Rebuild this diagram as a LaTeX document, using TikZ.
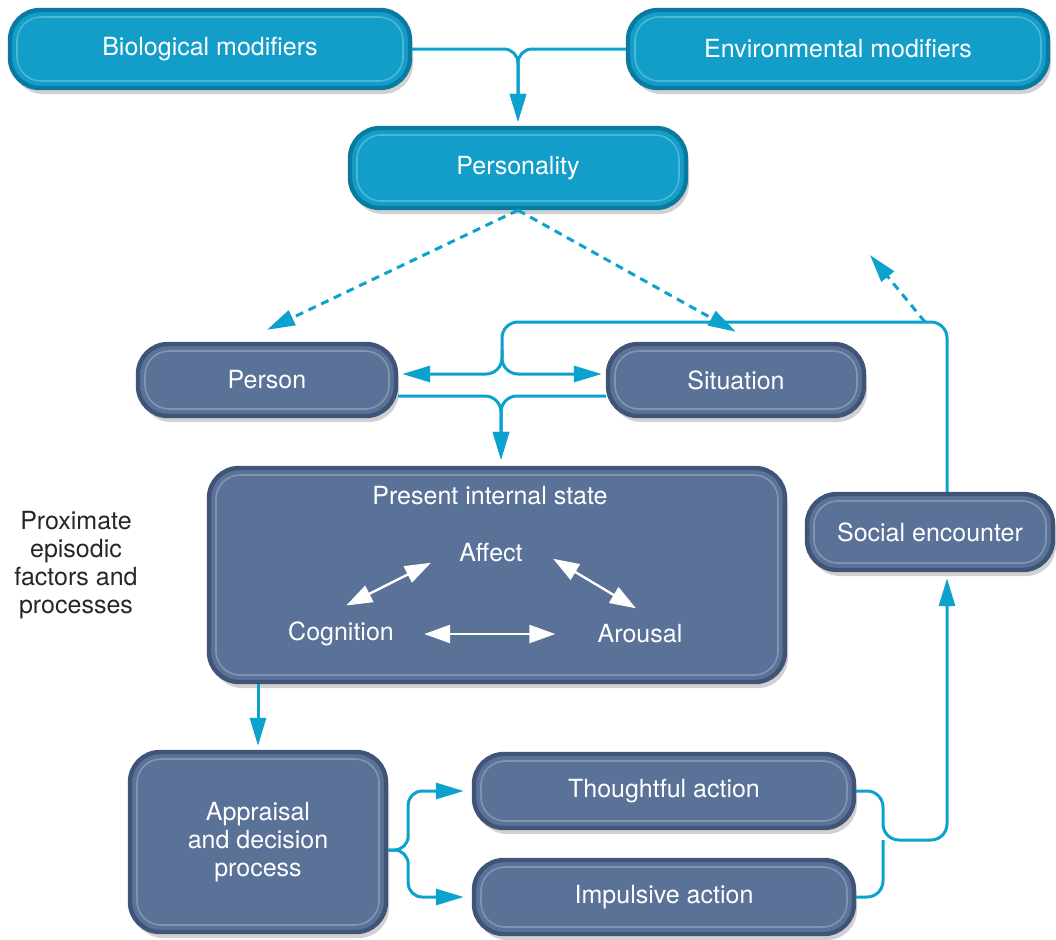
\documentclass[tikz,border=0pt]{standalone}
\usepackage{fontspec}
\setmainfont{TeX Gyre Heros}
\usetikzlibrary{arrows.meta,shadows}
\definecolor{cyanfill}{RGB}{18,158,200}
\definecolor{cyanrim}{RGB}{10,122,160}
\definecolor{slatefill}{RGB}{90,113,152}
\definecolor{slaterim}{RGB}{64,84,120}
\definecolor{linkblue}{RGB}{12,162,206}
\tikzset{
  boxbase/.style={rounded corners=15pt, line width=2.2pt, text=white, align=center,
    inner sep=0pt, font=\fontsize{12.5}{14}\selectfont,
    drop shadow={shadow xshift=1.5pt, shadow yshift=-3pt, opacity=.3, fill=black!60},
    path picture={\draw[white, opacity=.25, line width=.8pt, rounded corners=12pt]
      ([shift={(3.5pt,-3.5pt)}]path picture bounding box.north west) rectangle
      ([shift={(-3.5pt,3.5pt)}]path picture bounding box.south east);}},
  topbox/.style={boxbase, fill=cyanfill, draw=cyanrim},
  slatebox/.style={boxbase, fill=slatefill, draw=slaterim},
  inlabel/.style={text=white, inner sep=0pt, font=\fontsize{12.5}{14}\selectfont},
  conn/.style={draw=linkblue, line width=1.5pt, -{Triangle[length=14pt,width=8pt]}},
  plainconn/.style={draw=linkblue, line width=1.5pt},
  dashconn/.style={conn, dash pattern=on 4pt off 3pt},
  inarrow/.style={white, line width=1.2pt, {Triangle[length=13pt,width=9pt]}-{Triangle[length=13pt,width=9pt]}}
}
\begin{document}
\begin{tikzpicture}[x=0.5pt,y=-0.5pt]
\useasboundingbox (0,0) rectangle (1056,939);
% boxes
\node[topbox, minimum width=200pt, minimum height=39pt] (bio) at (210,49) {Biological modifiers};
\node[topbox, minimum width=210pt, minimum height=39pt] (env) at (838,49) {Environmental modifiers};
\node[topbox, minimum width=168pt, minimum height=40pt] (pers) at (518,168) {Personality};
\node[slatebox, minimum width=129pt, minimum height=36pt] (person) at (267,380) {Person};
\node[slatebox, minimum width=128pt, minimum height=36pt] (situation) at (736,380) {Situation};
\node[slatebox, minimum width=288pt, minimum height=107pt] (state) at (497,575) {};
\node[slatebox, minimum width=123pt, minimum height=38pt] (social) at (930,532) {Social encounter};
\node[slatebox, minimum width=128pt, minimum height=90pt] (appraisal) at (258,842) {Appraisal\\and decision\\process};
\node[slatebox, minimum width=190pt, minimum height=37pt] (thought) at (664,791) {Thoughtful action};
\node[slatebox, minimum width=190pt, minimum height=37pt] (impulse) at (664,897) {Impulsive action};
% texts inside the state box
\node[inlabel] (statetitle) at (490,496) {Present internal state};
\node[inlabel] (affect) at (491,553) {Affect};
\node[inlabel] (cognition) at (341,634) {Cognition};
\node[inlabel] (arousal) at (640,634) {Arousal};
\draw[inarrow] ([xshift=-14pt]affect.south west) -- ([shift={(-24pt,8pt)}]cognition.north east);
\draw[inarrow] ([shift={(15pt,2pt)}]affect.south east) -- ([shift={(-2pt,8pt)}]arousal.north);
\draw[inarrow, shorten <=15pt, shorten >=21pt] (cognition.east) -- (arousal.west);
% side label
\node[align=center, text=black!85, font=\fontsize{12.5}{13.9}\selectfont] (proxlabel) at (76,565) {Proximate\\episodic\\factors and\\processes};
% connectors
\coordinate (loopsplit) at (502,374);
\coordinate (actmerge) at (883,840);
\coordinate (dashfrom) at (925,322);
\coordinate (outnext) at (870,255);
\draw[conn, rounded corners=7pt, shorten >=2pt] (bio.east) -| (pers.north);
\draw[conn, rounded corners=7pt, shorten >=2pt] (env.west) -| (pers.north);
\draw[dashconn] (pers.south) -- ([yshift=6pt]person.north);
\draw[dashconn] (pers.south) -- ([yshift=5pt]situation.north);
\draw[conn, rounded corners=8pt, shorten >=2pt] ([xshift=8.5pt]social.north) |- ([yshift=26pt]loopsplit) -- (loopsplit) -- ([yshift=3pt]person.east);
\draw[conn, rounded corners=8pt, shorten >=2pt] ([yshift=12pt]loopsplit) |- ([yshift=3pt]situation.west);
\draw[dashconn] (dashfrom) -- (outnext);
\draw[conn, rounded corners=8pt, shorten >=3pt] ([yshift=-8pt]person.east) -| ([xshift=2pt]state.north);
\draw[conn, rounded corners=8pt, shorten >=3pt] ([yshift=-8pt]situation.west) -| ([xshift=2pt]state.north);
\draw[conn, shorten >=2pt] (appraisal.north |- state.south) -- (appraisal.north);
\draw[conn, rounded corners=7pt, shorten >=4pt] ([yshift=-4pt]appraisal.east) -- ++(10pt,0) |- (thought.west);
\draw[conn, rounded corners=7pt, shorten >=4pt] ([yshift=-4pt]appraisal.east) -- ++(10pt,0) |- (impulse.west);
\draw[conn, rounded corners=8pt, shorten >=3pt] (thought.east) -| (actmerge) -| ([xshift=8.5pt]social.south);
\draw[plainconn, rounded corners=8pt] (impulse.east) -| (actmerge);
\end{tikzpicture}
\end{document}
